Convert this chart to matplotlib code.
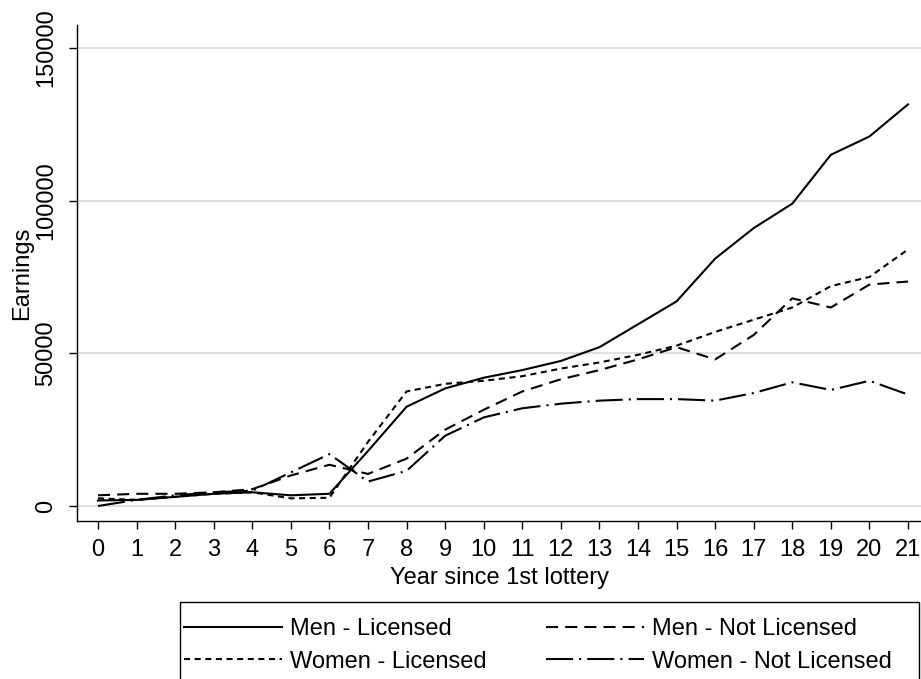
import matplotlib
matplotlib.use("Agg")
import matplotlib.pyplot as plt
from matplotlib.patches import Rectangle

plt.rcParams['font.family'] = ['Liberation Sans', 'DejaVu Sans']

years = list(range(22))
men_licensed = [1800, 2000, 3000, 4000, 4500, 3500, 4000, 18000, 32500, 38500, 42000, 44500,
                47500, 52000, 59500, 67000, 81000, 91000, 99000, 115000, 121000, 131500]
men_not_licensed = [3500, 4000, 4000, 4500, 5500, 10000, 13500, 10500, 15500, 25000, 31500, 37500,
                    41500, 44500, 48000, 52000, 48000, 56000, 68000, 65000, 72500, 73500]
women_licensed = [2500, 2000, 3000, 4000, 4500, 2500, 2700, 21000, 37500, 40000, 41000, 42500,
                  45000, 47000, 49500, 52500, 57000, 61000, 65000, 72000, 75000, 84000]
women_not_licensed = [0, 2000, 3500, 4500, 5000, 11000, 17000, 8000, 11500, 23000, 29000, 32000,
                      33500, 34500, 35000, 35000, 34500, 37000, 40500, 38000, 41000, 36500]
labels = ["Men - Licensed", "Men - Not Licensed", "Women - Licensed", "Women - Not Licensed"]

W, H = 921, 679
FS = 17
fig = plt.figure(figsize=(W / 100, H / 100), dpi=100)
ax = fig.add_axes([77 / W, 1 - 521 / H, 1 - 77 / W, (521 - 25) / H])

lw = 1.5
l1, = ax.plot(years, men_licensed, color='black', lw=lw, linestyle='-')
l2, = ax.plot(years, men_not_licensed, color='black', lw=lw, linestyle=(0, (5.8, 3.4)))
l3, = ax.plot(years, women_licensed, color='black', lw=lw, linestyle=(0, (2.9, 2.2)))
l4, = ax.plot(years, women_not_licensed, color='black', lw=lw, linestyle=(0, (13, 2.9, 1, 2.9)))

ax.set_xlim(-0.544, 21.337)
ax.set_ylim(-4912, 157500)
ax.set_xticks(years)
ax.set_yticks([0, 50000, 100000, 150000])
ax.set_yticklabels(['0', '50000', '100000', '150000'], rotation=90, va='center')
ax.yaxis.grid(True, color='#d9d9d9', lw=1.2)
ax.set_axisbelow(True)
for s in ['top', 'right']:
    ax.spines[s].set_visible(False)
for s in ['left', 'bottom']:
    ax.spines[s].set_linewidth(1.0)
ax.tick_params(axis='both', direction='out', length=6, width=1.0, labelsize=FS)
ax.tick_params(axis='y', pad=8)
ax.tick_params(axis='x', pad=7)
ax.set_xlabel('Year since 1st lottery', fontsize=FS, labelpad=4)
ax.set_ylabel('Earnings', fontsize=FS, labelpad=2)

# legend frame (bottom edge runs off the figure, as in the reference)
fig.patches.append(Rectangle((180 / W, -0.05), (919 - 180) / W, 0.05 + 1 - 602 / H,
                             transform=fig.transFigure, fill=False, edgecolor='black',
                             lw=1.0, clip_on=False))
leg = fig.legend([l1, l3, l2, l4], [labels[0], labels[2], labels[1], labels[3]], ncol=2,
                 loc='upper left', bbox_to_anchor=(171 / W, 1 - 605 / H),
                 fontsize=FS, frameon=False, handlelength=4.15, handletextpad=0.35,
                 borderpad=0.55, labelspacing=0.45, borderaxespad=0, columnspacing=2.5)

fig.savefig('out.png', dpi=100)
